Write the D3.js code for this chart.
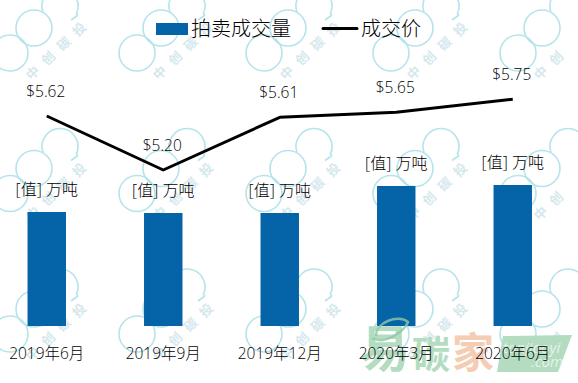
<!DOCTYPE html>
<html>
<head>
<meta charset="utf-8">
<script src="https://cdn.jsdelivr.net/npm/d3@7"></script>
<style>
  html, body { margin: 0; padding: 0; background: #fff; }
  text { font-family: "Open Sans", "Noto Sans CJK SC", sans-serif; fill: #000; font-weight: 300; }
</style>
</head>
<body>
<div id="chart"></div>
<script>
const categories = ['2019年6月', '2019年9月', '2019年12月', '2020年3月', '2020年6月'];
// bar labels in the picture are unfilled placeholders, so volumes are estimated from bar height
const volumes = [114, 113, 113, 140, 141];
const volumeLabels = ['[值] 万吨', '[值] 万吨', '[值] 万吨', '[值] 万吨', '[值] 万吨'];
const prices = [5.62, 5.20, 5.61, 5.65, 5.75];
const legendBar = '拍卖成交量';
const legendLine = '成交价';
const watermarkChars = ['中', '创', '碳', '投'];

const width = 578, height = 383;
const svg = d3.select('#chart').append('svg')
    .attr('width', width)
    .attr('height', height)
    .style('display', 'block');

// background watermark
const wm = svg.append('g').attr('class', 'watermark');
const wmColor = '#b5e4ec';
for (let r = 0; r < 3; r++) {
  for (let c = 0; c < 5; c++) {
    const ox = c * 127, oy = r * 140.5;
    const g = wm.append('g').attr('transform', `translate(${ox},${oy})`);
    g.append('circle').attr('cx', 34).attr('cy', 28).attr('r', 18);
    g.append('circle').attr('cx', 10).attr('cy', 53).attr('r', 18);
    g.append('path').attr('d', d3.arc()({innerRadius: 18, outerRadius: 18, startAngle: -1.9, endAngle: 2.0}))
        .attr('transform', 'translate(60,6)');
    g.append('path').attr('d', 'M71,20 L78,15 M76,13 L78,15');
    g.selectAll('circle,path')
        .attr('fill', 'none')
        .attr('stroke', wmColor)
        .attr('stroke-width', 1.6);
    // one char at a time along the diagonal, skipping any that fall off the page
    watermarkChars.forEach((ch, i) => {
      const tx = 33 + i * 15.5, ty = 73 - i * 14.5;
      if (ox + tx + 7 > width || oy + ty + 7 > height) return;
      g.append('text')
          .attr('transform', `translate(${tx},${ty}) rotate(-45)`)
          .attr('text-anchor', 'middle')
          .attr('dy', 4.5)
          .attr('font-size', 13)
          .style('font-weight', 700)
          .style('fill', '#d5e8ee')
          .text(ch);
    });
  }
}

const x = d3.scaleBand()
    .domain(categories)
    .range([-11.5, 571])
    .paddingInner(0.67)
    .paddingOuter(0.335);

const yBar = d3.scaleLinear().domain([0, 141]).range([326, 185]);
const yLine = d3.scaleLinear().domain([5.2, 5.75]).range([170, 99.3]);

const cx = d => x(d) + x.bandwidth() / 2;

svg.append('g').selectAll('rect')
    .data(categories)
    .join('rect')
    .attr('x', d => x(d))
    .attr('width', x.bandwidth())
    .attr('y', (d, i) => yBar(volumes[i]))
    .attr('height', (d, i) => yBar(0) - yBar(volumes[i]))
    .attr('fill', '#0563a8');

const line = d3.line()
    .x((d, i) => cx(categories[i]))
    .y(d => yLine(d));

svg.append('path')
    .datum(prices)
    .attr('d', line)
    .attr('fill', 'none')
    .attr('stroke', '#000')
    .attr('stroke-width', 3)
    .attr('stroke-linejoin', 'round');

svg.append('g').selectAll('text')
    .data(prices)
    .join('text')
    .attr('x', (d, i) => cx(categories[i]) - 1)
    .attr('y', d => yLine(d) - 19)
    .attr('text-anchor', 'middle')
    .attr('font-size', 15.5)
    .text(d => '$' + d.toFixed(2));

svg.append('g').selectAll('text')
    .data(volumeLabels)
    .join('text')
    .attr('x', (d, i) => cx(categories[i]))
    .attr('y', (d, i) => yBar(volumes[i]) - 17)
    .attr('text-anchor', 'middle')
    .attr('font-size', 16)
    .text(d => d);

// logo sits under the axis labels
const logo = svg.append('g').attr('class', 'logo');
const logoText = (str, lx, ly, size, color) => logo.append('text')
    .attr('x', lx).attr('y', ly)
    .attr('font-size', size)
    .style('font-weight', 700)
    .style('font-family', '"Noto Sans CJK SC", sans-serif')
    .style('fill', color)
    .text(str);
logoText('易', 360, 367, 50, '#b4dcc0');
logoText('碳', 412, 368, 38, '#b4dcc0');
logoText('家', 452, 368, 42, '#f5cdb4');
logo.append('path')
    .attr('d', 'M372,338 C385,346 405,330 408,322 C398,314 376,322 376,336')
    .attr('fill', 'none')
    .attr('stroke', '#8cc9a5')
    .attr('stroke-width', 2.5)
    .attr('opacity', 0.8);
logo.append('path').attr('d', 'M503,336 L572,335 L558,372 L497,372 Z').attr('fill', '#b4dcc0');
const logoLatin = (str, lx, ly) => logo.append('text')
    .attr('x', lx).attr('y', ly)
    .attr('font-size', 15)
    .attr('font-style', 'italic')
    .style('font-weight', 400)
    .style('fill', '#e4f3e8')
    .text(str);
logoLatin('tanjiaoyi', 503, 353);
logoLatin('.com', 531, 367);

const xAxis = d3.axisBottom(x).tickSize(0).tickPadding(0);
const axisG = svg.append('g').attr('transform', 'translate(0,339)').call(xAxis);
axisG.select('.domain').remove();
axisG.selectAll('text')
    .attr('font-size', 15.5)
    .attr('dy', 20)
    .style('font-family', '"Open Sans", "Noto Sans CJK SC", sans-serif');

// legend
const legend = svg.append('g');
legend.append('rect').attr('x', 156).attr('y', 23).attr('width', 32).attr('height', 12).attr('fill', '#0563a8');
legend.append('text').attr('x', 191).attr('y', 36).attr('font-size', 20).text(legendBar);
legend.append('line').attr('x1', 323).attr('x2', 357).attr('y1', 28.5).attr('y2', 28.5)
    .attr('stroke', '#000').attr('stroke-width', 3).attr('stroke-linecap', 'round');
legend.append('text').attr('x', 361).attr('y', 36).attr('font-size', 20).text(legendLine);
</script>
</body>
</html>
